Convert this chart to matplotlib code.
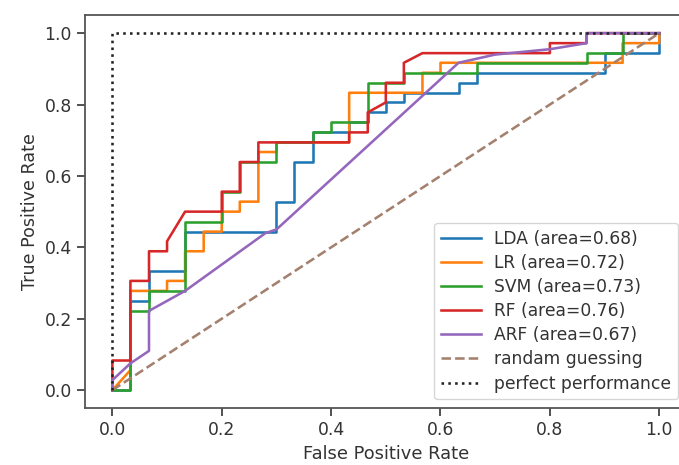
import numpy as np
import matplotlib
matplotlib.use("Agg")
import matplotlib.pyplot as plt

# ROC curve vertices (false positive rate, true positive rate) per classifier
lda_fpr = [0, 0.033, 0.033, 0.067, 0.067, 0.133, 0.133, 0.3, 0.3, 0.333, 0.333, 0.367, 0.367,
           0.433, 0.433, 0.467, 0.467, 0.5, 0.5, 0.533, 0.533, 0.633, 0.633, 0.667, 0.667,
           0.9, 0.9, 1, 1]
lda_tpr = [0, 0, 0.25, 0.25, 0.333, 0.333, 0.444, 0.444, 0.528, 0.528, 0.639, 0.639, 0.722,
           0.722, 0.75, 0.75, 0.778, 0.778, 0.806, 0.806, 0.833, 0.833, 0.861, 0.861, 0.889,
           0.889, 0.944, 0.944, 1]

lr_fpr = [0, 0.033, 0.033, 0.1, 0.1, 0.133, 0.133, 0.167, 0.167, 0.2, 0.2, 0.233, 0.233,
          0.267, 0.267, 0.3, 0.3, 0.433, 0.433, 0.567, 0.567, 0.6, 0.6, 0.933, 0.933, 1, 1]
lr_tpr = [0, 0.056, 0.278, 0.278, 0.306, 0.306, 0.389, 0.389, 0.444, 0.444, 0.5, 0.5, 0.528,
          0.528, 0.667, 0.667, 0.694, 0.694, 0.833, 0.833, 0.889, 0.889, 0.917, 0.917, 0.972,
          0.972, 1]

svm_fpr = [0, 0.033, 0.033, 0.067, 0.067, 0.133, 0.133, 0.2, 0.2, 0.233, 0.233, 0.3, 0.3,
           0.367, 0.367, 0.4, 0.4, 0.467, 0.467, 0.533, 0.533, 0.667, 0.667, 0.867, 0.867,
           0.933, 0.933, 1]
svm_tpr = [0, 0, 0.222, 0.222, 0.278, 0.278, 0.472, 0.472, 0.556, 0.556, 0.639, 0.639, 0.694,
           0.694, 0.722, 0.722, 0.75, 0.75, 0.861, 0.861, 0.889, 0.889, 0.917, 0.917, 0.944,
           0.944, 1, 1]

rf_fpr = [0, 0, 0.033, 0.033, 0.067, 0.067, 0.1, 0.1, 0.133, 0.2, 0.2, 0.233, 0.233, 0.267,
          0.267, 0.433, 0.433, 0.467, 0.467, 0.5, 0.5, 0.533, 0.533, 0.567, 0.8, 0.8, 0.867,
          0.867, 1]
rf_tpr = [0, 0.083, 0.083, 0.306, 0.306, 0.389, 0.389, 0.417, 0.5, 0.5, 0.556, 0.556, 0.639,
          0.639, 0.694, 0.694, 0.722, 0.722, 0.778, 0.806, 0.861, 0.861, 0.917, 0.944, 0.944,
          0.972, 0.972, 1, 1]

arf_fpr = [0, 0, 0.033, 0.067, 0.067, 0.133, 0.28, 0.3, 0.633, 0.7, 0.8, 0.867, 0.867, 1]
arf_tpr = [0, 0.028, 0.075, 0.11, 0.222, 0.278, 0.44, 0.45, 0.917, 0.94, 0.955, 0.972, 1, 1]

names = ["LDA", "LR", "SVM", "RF", "ARF"]
areas = [0.68, 0.72, 0.73, 0.76, 0.67]
fprs = [lda_fpr, lr_fpr, svm_fpr, rf_fpr, arf_fpr]
tprs = [lda_tpr, lr_tpr, svm_tpr, rf_tpr, arf_tpr]
colors = ["tab:blue", "tab:orange", "tab:green", "tab:red", "tab:purple"]

lw = 1.85

fig = plt.figure(figsize=(6.79, 4.65), dpi=100)
ax = fig.add_axes([0.1252, 0.1226, 0.886, 0.8445])

for name, area, fpr, tpr, c in zip(names, areas, fprs, tprs, colors):
    ax.plot(fpr, tpr, color=c, lw=lw, label="%s (area=%.2f)" % (name, area))

ax.plot([0, 1], [0, 1], linestyle="--", color="#a4806f", lw=lw, label="randam guessing")
ax.plot([0, 0, 1], [0, 1, 1], linestyle=":", color="#222222", lw=lw, label="perfect performance")

ax.set_xlim(-0.05, 1.05)
ax.set_ylim(-0.05, 1.05)
ax.set_xticks(np.arange(0, 1.01, 0.2))
ax.set_yticks(np.arange(0, 1.01, 0.2))
ax.tick_params(labelsize=12.4, length=6, width=1.2, colors="#333333")
for s in ax.spines.values():
    s.set_linewidth(1.3)
    s.set_edgecolor("#555555")

ax.set_xlabel("False Positive Rate", fontsize=12.9, color="#333333")
ax.set_ylabel("True Positive Rate", fontsize=12.6, color="#333333")
leg = ax.legend(loc="lower right", fontsize=12.3, handlelength=2.3, labelspacing=0.36)
for t in leg.get_texts():
    t.set_color("#333333")

fig.savefig("out.png", dpi=100)
